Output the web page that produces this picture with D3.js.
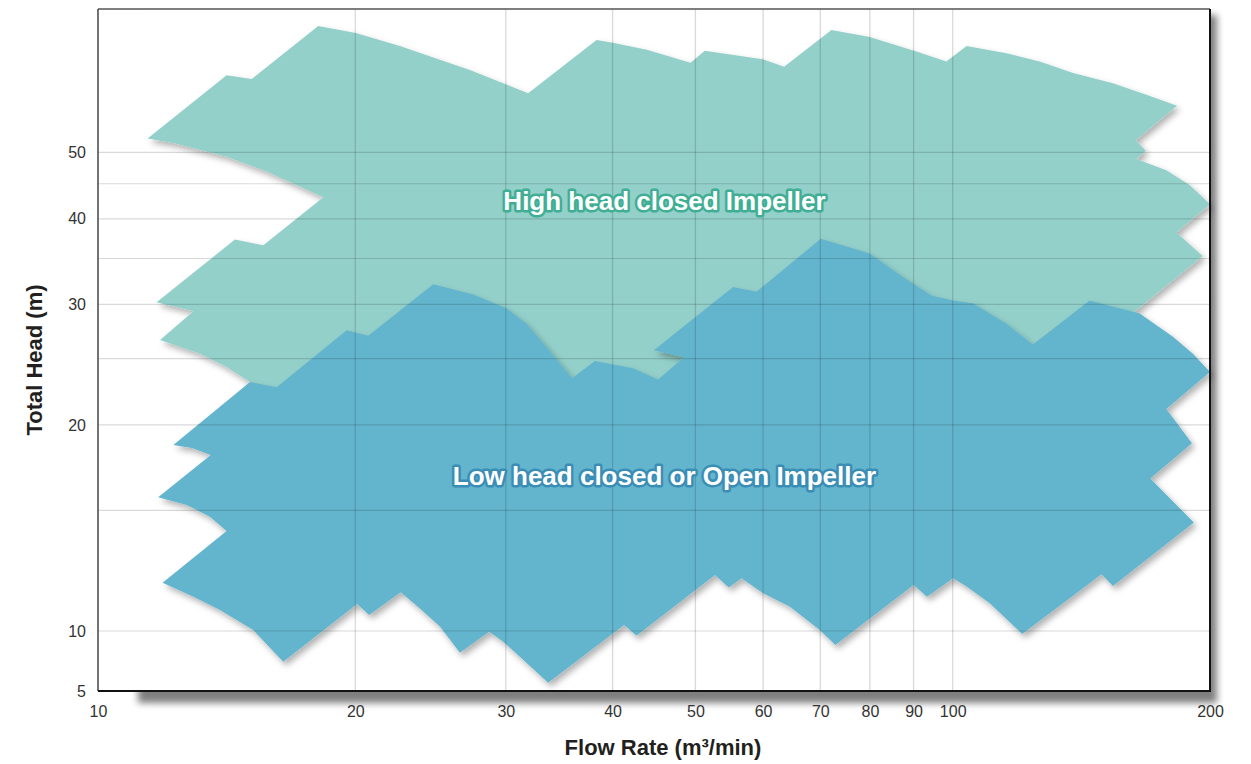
<!DOCTYPE html>
<html>
<head>
<meta charset="utf-8">
<script src="https://cdn.jsdelivr.net/npm/d3@7"></script>
<style>
  body { margin: 0; background: #fff; }
  svg { display: block; font-family: "Liberation Sans", Arial, sans-serif; }
</style>
</head>
<body>
<svg></svg>
<script>
var WIDTH = 1251;
var HEIGHT = 764;

// axis ticks
var flowTicks = [10, 20, 30, 40, 50, 60, 70, 80, 90, 100, 200];
var flowGrid = [20, 30, 40, 50, 60, 70, 80, 90, 100];
var headTicks = [5, 10, 20, 30, 40, 50];
var headGrid = [10, 15, 20, 25, 30, 35, 40, 45, 50];

// [flow m3/min, head m] outline of the high head region
var highHeadRegion = [
  [11.43, 52.4], [14.14, 64.8], [15.13, 64.0], [18.10, 76.5], [20.03, 74.7],
  [22.55, 71.5], [27.23, 66.0], [31.86, 61.0], [38.31, 73.0], [40.03, 72.3],
  [43.86, 70.6], [49.34, 67.6], [51.28, 70.4], [59.95, 68.4], [63.49, 66.7],
  [72.13, 75.5], [79.97, 73.7], [90.69, 70.2], [98.3, 67.9], [103.8, 71.5],
  [115.6, 69.8], [126.4, 67.9], [138.3, 65.3], [154.0, 63.1], [168.5, 60.7],
  [183.0, 58.5], [163.7, 52.1], [168.2, 50.3], [164.0, 48.9], [177.8, 47.1],
  [189.3, 44.8], [200, 42.0], [182.7, 38.2], [196.1, 35.3], [164.0, 29.4],
  [133.4, 23.9], [113.5, 20.3], [17.2, 20.3], [15.06, 23.1], [14.14, 24.3],
  [13.16, 25.4], [11.82, 26.6], [12.93, 29.3], [11.71, 30.2], [14.46, 37.3],
  [15.61, 36.6], [18.35, 43.0], [15.75, 46.9], [14.14, 49.3], [12.25, 51.6]
];

// outline of the low head region
var lowHeadRegion = [
  [12.25, 18.7], [15.06, 23.1], [16.18, 22.7], [19.54, 27.5], [20.71, 27.0],
  [24.67, 32.1], [27.48, 31.0], [30.06, 29.6], [31.73, 28.1], [33.48, 26.0],
  [35.87, 23.4], [38.13, 24.8], [42.28, 24.2], [45.22, 23.3], [48.46, 25.1],
  [44.70, 25.7], [55.34, 31.8], [58.94, 31.3], [70.08, 37.4], [79.97, 35.6],
  [87.47, 32.9], [94.43, 30.9], [100.1, 30.4], [105.6, 30.1], [115.6, 28.1],
  [124.1, 26.2], [144.6, 30.4], [165.5, 29.1], [181.0, 26.9], [191.0, 25.4],
  [200, 23.9], [177.8, 21.1], [190.5, 18.8], [170.3, 16.7], [191.5, 14.4],
  [154.0, 11.63], [149.3, 12.10], [120.6, 9.66], [110.5, 10.98], [103.8, 11.61],
  [100.1, 11.94], [93.3, 11.22], [90.0, 11.67], [72.9, 8.51], [69.9, 10.03],
  [64.5, 10.85], [60.0, 11.35], [56.6, 11.94], [54.7, 11.58], [52.7, 12.07],
  [42.66, 9.47], [41.26, 10.20], [33.63, 5.50], [31.16, 7.43], [29.79, 8.84],
  [28.69, 9.92], [26.51, 7.78], [25.12, 10.15], [23.80, 10.79], [22.60, 11.39],
  [20.76, 10.55], [20.10, 10.95], [16.47, 7.01], [15.19, 10.03], [13.89, 10.73],
  [12.93, 11.22], [11.90, 11.76], [14.14, 14.0], [13.52, 14.69], [12.70, 15.28],
  [11.76, 15.68], [13.55, 18.08], [12.88, 18.5]
];

var regionNames = ['High head closed Impeller', 'Low head closed or Open Impeller'];
// label anchor [flow, head] (centre, baseline)
var labelPos = [[46.0, 41.2], [46.0, 16.34]];

var svg = d3.select('svg')
  .attr('width', WIDTH)
  .attr('height', HEIGHT);

var xScale = d3.scaleLog().domain([10, 200]).range([98, 1210]);
var yScale = d3.scaleLog().domain([5, 10, 81]).range([691, 631, 9]);

var plotLeft = xScale(10), plotRight = xScale(200), plotTop = yScale(81), plotBottom = yScale(5);

var defs = svg.append('defs');
defs.append('filter').attr('id', 'frameShadow')
  .attr('x', '-10%').attr('y', '-10%').attr('width', '120%').attr('height', '120%')
  .append('feGaussianBlur').attr('stdDeviation', 3.5);
var sh = defs.append('filter').attr('id', 'shapeShadow')
  .attr('x', '-10%').attr('y', '-10%').attr('width', '120%').attr('height', '120%');
sh.append('feDropShadow')
  .attr('dx', 3).attr('dy', 4).attr('stdDeviation', 3)
  .attr('flood-color', '#000').attr('flood-opacity', 0.3);

// frame shadow and plot background
svg.append('rect')
  .attr('x', plotLeft + 40).attr('y', plotTop + 6)
  .attr('width', plotRight - plotLeft - 33).attr('height', plotBottom - plotTop + 6)
  .attr('fill', '#000').attr('opacity', 0.5)
  .attr('filter', 'url(#frameShadow)');
svg.append('rect')
  .attr('x', plotLeft).attr('y', plotTop)
  .attr('width', plotRight - plotLeft).attr('height', plotBottom - plotTop)
  .attr('fill', '#fff');

var line = d3.line()
  .x(function(d) { return xScale(d[0]); })
  .y(function(d) { return yScale(d[1]); });

svg.append('path')
  .attr('d', line(highHeadRegion) + 'Z')
  .attr('fill', '#94d0ca')
  .attr('filter', 'url(#shapeShadow)');

svg.append('path')
  .attr('d', line(lowHeadRegion) + 'Z')
  .attr('fill', '#64b5cd')
  .attr('filter', 'url(#shapeShadow)');

// grid on top so it shows through the regions
svg.append('g').selectAll('line.h')
  .data(headGrid)
  .enter()
  .append('line')
  .attr('x1', plotLeft).attr('x2', plotRight)
  .attr('y1', function(d) { return yScale(d); })
  .attr('y2', function(d) { return yScale(d); })
  .attr('stroke', 'rgba(0,0,0,0.15)')
  .attr('stroke-width', 1.2);

svg.append('g').selectAll('line.v')
  .data(flowGrid)
  .enter()
  .append('line')
  .attr('y1', plotTop).attr('y2', plotBottom)
  .attr('x1', function(d) { return xScale(d); })
  .attr('x2', function(d) { return xScale(d); })
  .attr('stroke', 'rgba(0,0,0,0.15)')
  .attr('stroke-width', 1.3);

// frame
svg.append('line').attr('x1', plotLeft).attr('x2', plotRight).attr('y1', plotTop).attr('y2', plotTop)
  .attr('stroke', '#555').attr('stroke-width', 1.5);
svg.append('line').attr('x1', plotLeft).attr('x2', plotLeft).attr('y1', plotTop).attr('y2', plotBottom)
  .attr('stroke', '#444').attr('stroke-width', 1.5);
svg.append('line').attr('x1', plotLeft).attr('x2', plotRight + 1).attr('y1', plotBottom).attr('y2', plotBottom)
  .attr('stroke', '#111').attr('stroke-width', 2);
svg.append('line').attr('x1', plotRight).attr('x2', plotRight).attr('y1', plotTop).attr('y2', plotBottom)
  .attr('stroke', '#111').attr('stroke-width', 2);

// region labels
svg.append('g').selectAll('text')
  .data(regionNames)
  .enter()
  .append('text')
  .attr('x', function(d, i) { return xScale(labelPos[i][0]); })
  .attr('y', function(d, i) { return yScale(labelPos[i][1]); })
  .attr('text-anchor', 'middle')
  .attr('font-size', 26)
  .attr('font-weight', 'bold')
  .attr('fill', '#fff')
  .attr('stroke', function(d, i) { return i === 0 ? '#3fae94' : '#3a8db5'; })
  .attr('stroke-width', 5)
  .attr('stroke-linejoin', 'round')
  .attr('paint-order', 'stroke')
  .text(function(d) { return d; });

// axes
var xAxis = d3.axisBottom(xScale)
  .tickValues(flowTicks)
  .tickSize(0)
  .tickPadding(15)
  .tickFormat(d3.format('d'));
var gx = svg.append('g').attr('transform', 'translate(0,' + plotBottom + ')').call(xAxis);
gx.select('.domain').remove();
gx.selectAll('text').attr('font-size', 16).attr('fill', '#333')
  .attr('font-family', '"Liberation Sans", Arial, sans-serif');

var yAxis = d3.axisLeft(yScale)
  .tickValues(headTicks)
  .tickSize(0)
  .tickPadding(12)
  .tickFormat(d3.format('d'));
var gy = svg.append('g').attr('transform', 'translate(' + plotLeft + ',0)').call(yAxis);
gy.select('.domain').remove();
gy.selectAll('text').attr('font-size', 16).attr('fill', '#333')
  .attr('font-family', '"Liberation Sans", Arial, sans-serif');

// axis titles
svg.append('text')
  .attr('x', 663).attr('y', 755)
  .attr('text-anchor', 'middle')
  .attr('font-size', 22).attr('font-weight', 'bold').attr('fill', '#231f20')
  .text('Flow Rate (m³/min)');

svg.append('text')
  .attr('transform', 'translate(42,360) rotate(-90)')
  .attr('text-anchor', 'middle')
  .attr('font-size', 22).attr('font-weight', 'bold').attr('fill', '#231f20')
  .text('Total Head (m)');
</script>
</body>
</html>
